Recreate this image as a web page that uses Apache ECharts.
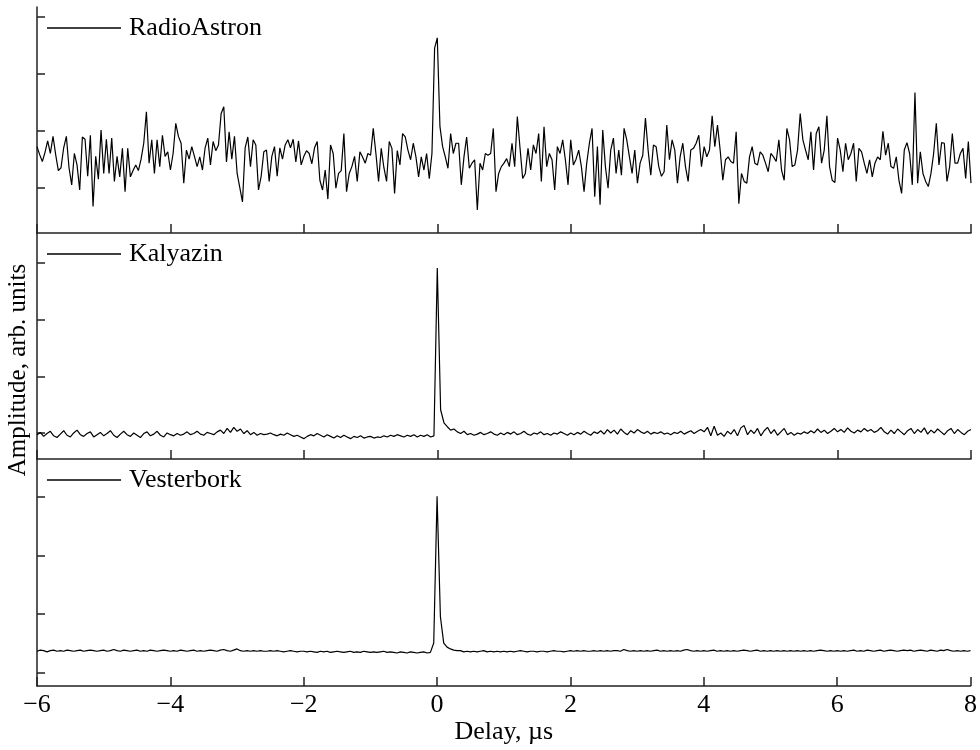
<!DOCTYPE html>
<html>
<head>
<meta charset="utf-8">
<script src="https://cdn.jsdelivr.net/npm/echarts@6/dist/echarts.min.js"></script>
<style>
  html, body { margin: 0; padding: 0; background: #fff; }
  #chart { width: 980px; height: 750px; }
</style>
</head>
<body>
<div id="chart"></div>
<script>
// sampling grid of the delay axis (µs)
const delayStart = -6
const raStep = 0.04
const kvStep = 0.05

const names = ['RadioAstron', 'Kalyazin', 'Vesterbork']
const yTicks = [1, 2, 3, 4]

// RadioAstron, every 0.04 µs from -6 to 8
const radioAstron = [
  1.72,1.58,1.46,1.62,1.82,1.60,1.90,1.58,1.30,1.35,1.70,1.90,1.35,1.05,1.60,1.40,0.96,1.89,1.85,1.20,1.92,0.67,1.55,1.15,2.01,
  1.25,1.85,1.25,1.87,1.11,1.55,1.19,1.69,0.93,1.69,1.19,1.30,1.40,1.30,1.50,1.78,2.33,1.43,1.84,1.25,1.84,1.37,1.92,1.55,1.63,
  1.31,1.60,2.13,1.90,1.78,1.08,1.66,1.50,1.72,1.55,1.37,1.54,1.31,1.70,1.87,1.40,1.81,1.65,1.75,2.30,2.42,1.45,1.98,1.50,1.90,
  1.25,1.00,0.75,1.70,1.89,1.37,1.84,1.75,0.96,1.20,1.63,1.66,1.11,1.55,1.72,1.20,1.70,1.50,1.75,1.84,1.70,1.85,1.45,1.82,1.40,
  1.55,1.65,1.60,1.42,1.70,1.81,1.13,0.96,1.31,0.80,1.75,1.60,0.99,1.25,1.30,1.95,0.93,1.25,1.37,1.55,1.11,1.63,1.54,1.43,1.60,
  1.57,2.04,1.60,1.11,1.69,1.35,1.11,1.81,1.69,0.90,1.65,1.40,1.95,1.89,1.66,1.49,1.78,1.54,1.19,1.54,1.31,1.60,1.16,1.60,3.45,
  3.63,2.07,1.72,1.54,1.34,1.95,1.60,1.78,1.78,1.05,1.54,1.89,1.34,1.43,1.49,0.61,1.43,1.31,1.60,1.57,1.60,2.04,0.93,1.25,1.37,
  1.43,1.51,1.37,1.78,1.37,2.25,1.70,1.16,1.25,1.69,1.31,1.75,1.60,1.95,1.11,2.07,1.37,1.60,1.49,0.96,1.72,1.60,1.84,1.49,1.05,
  1.84,1.40,1.50,1.66,1.37,0.93,1.43,1.78,2.04,0.84,1.72,0.70,2.01,1.37,0.99,1.66,1.87,1.25,1.66,1.22,2.04,1.84,1.54,1.25,1.66,
  1.08,1.43,1.57,2.22,1.66,1.22,1.75,1.72,1.37,1.20,1.28,2.10,1.49,1.84,1.66,1.08,1.54,1.78,1.37,1.11,1.66,1.69,1.78,1.92,1.37,
  1.72,1.54,1.66,2.26,1.72,2.10,1.66,1.13,1.49,1.54,1.46,1.43,1.98,0.72,1.25,1.11,1.08,1.54,1.72,1.43,1.40,1.63,1.57,1.43,1.28,
  1.60,1.54,1.46,1.84,1.31,1.13,2.04,1.84,1.37,1.40,1.66,2.30,1.84,1.66,1.49,1.98,1.31,1.95,2.07,1.43,1.66,2.26,1.37,1.13,1.09,
  1.87,1.66,1.28,1.78,1.49,1.60,1.78,1.11,1.69,1.63,1.43,1.25,1.49,1.19,1.43,1.54,1.49,1.99,1.57,1.78,1.37,1.34,1.54,1.13,0.90,
  1.66,1.79,1.60,1.05,2.67,1.08,1.63,1.25,1.11,1.02,1.25,1.60,2.13,1.40,1.79,1.78,1.11,1.37,1.95,1.43,1.43,1.60,1.69,1.16,1.81,
  1.08
]

// Kalyazin, every 0.05 µs
const kalyazin = [
  0.97,1.01,0.94,0.99,1.03,0.95,0.92,0.98,1.04,0.96,0.93,1.00,1.05,0.97,0.94,0.99,1.02,0.93,0.97,1.01,
  0.95,0.99,1.04,0.96,0.92,0.98,1.03,0.97,0.94,1.00,0.96,0.92,0.99,1.02,0.95,0.98,1.03,0.96,0.93,1.00,
  0.97,0.95,0.99,0.96,0.98,1.02,0.97,0.99,1.03,0.98,0.96,1.01,0.99,0.97,1.02,1.05,0.99,1.08,1.01,1.10,
  1.03,1.07,0.99,1.04,0.97,1.01,0.96,0.99,0.97,0.98,1.00,0.97,0.95,0.98,0.96,1.00,0.97,0.94,0.96,0.93,
  0.90,0.94,0.97,0.95,0.99,0.96,0.93,0.97,0.94,0.91,0.95,0.92,0.96,0.93,0.90,0.94,0.92,0.95,0.91,0.93,
  0.94,0.91,0.93,0.92,0.95,0.93,0.96,0.94,0.97,0.95,0.93,0.96,0.94,0.97,0.93,0.96,0.94,0.97,0.93,0.95,
  3.91,
  1.41,1.18,1.11,1.05,1.07,1.02,0.99,1.03,0.97,0.99,0.96,0.98,1.01,0.97,0.99,1.02,0.98,0.96,1.00,0.97,
  1.01,0.98,1.02,0.97,0.99,1.03,0.98,0.96,1.00,0.98,1.02,0.97,0.99,0.96,1.00,0.98,1.02,0.99,0.96,1.00,
  0.97,1.01,0.98,1.03,0.99,0.96,1.02,0.99,1.04,0.98,1.06,1.00,1.05,0.98,1.07,1.01,0.97,1.04,1.00,1.06,
  1.02,0.99,1.03,0.98,1.01,0.99,1.02,0.98,1.00,0.97,1.01,0.99,1.03,0.98,1.01,1.04,0.99,1.03,1.06,1.02,
  1.10,0.95,1.12,0.96,1.00,0.94,1.03,0.98,1.06,0.95,1.09,1.13,0.97,1.05,0.99,1.08,0.95,1.04,1.10,0.99,
  1.06,0.96,1.02,1.08,0.97,1.01,0.96,1.00,0.98,1.02,0.99,1.04,1.00,1.07,1.01,1.05,0.99,1.03,1.08,1.02,
  1.06,1.01,1.09,1.03,1.00,1.05,1.02,1.08,1.03,1.06,1.01,1.04,1.10,1.02,0.98,1.05,0.99,1.07,1.02,0.97,
  1.04,1.08,0.99,1.06,1.01,1.09,0.98,1.05,1.00,1.07,1.02,0.97,1.04,1.08,0.99,1.06,1.01,0.97,1.03,1.06
]

// Vesterbork, every 0.05 µs
const vesterbork = [
  1.36,1.38,1.37,1.35,1.37,1.38,1.36,1.37,1.36,1.38,1.37,1.36,1.37,1.38,1.36,1.37,1.38,1.37,1.36,1.37,
  1.38,1.36,1.37,1.39,1.37,1.36,1.38,1.37,1.36,1.37,1.38,1.36,1.37,1.36,1.38,1.37,1.36,1.37,1.38,1.37,
  1.36,1.37,1.36,1.38,1.37,1.36,1.37,1.38,1.36,1.37,1.36,1.37,1.38,1.37,1.36,1.38,1.39,1.37,1.36,1.38,
  1.40,1.37,1.36,1.37,1.36,1.37,1.36,1.37,1.36,1.36,1.37,1.36,1.37,1.36,1.35,1.36,1.37,1.36,1.35,1.36,
  1.36,1.35,1.36,1.35,1.34,1.36,1.35,1.36,1.34,1.35,1.36,1.35,1.34,1.35,1.36,1.34,1.35,1.34,1.36,1.35,
  1.34,1.35,1.34,1.35,1.36,1.34,1.35,1.34,1.33,1.35,1.34,1.33,1.35,1.34,1.33,1.34,1.35,1.33,1.34,1.50,
  4.01,
  1.95,1.50,1.43,1.40,1.38,1.37,1.37,1.35,1.36,1.35,1.36,1.35,1.36,1.37,1.35,1.36,1.35,1.36,1.35,1.36,
  1.35,1.36,1.35,1.36,1.37,1.36,1.35,1.36,1.36,1.35,1.36,1.36,1.35,1.36,1.37,1.36,1.36,1.35,1.36,1.37,
  1.36,1.37,1.36,1.37,1.36,1.36,1.37,1.36,1.37,1.36,1.37,1.36,1.37,1.37,1.36,1.39,1.37,1.36,1.37,1.36,
  1.37,1.36,1.37,1.36,1.37,1.38,1.36,1.37,1.36,1.37,1.36,1.37,1.36,1.38,1.39,1.37,1.36,1.37,1.36,1.37,
  1.36,1.37,1.38,1.36,1.37,1.36,1.37,1.36,1.37,1.36,1.37,1.38,1.37,1.36,1.37,1.38,1.36,1.37,1.36,1.37,
  1.36,1.37,1.36,1.37,1.36,1.37,1.36,1.37,1.36,1.37,1.36,1.37,1.36,1.37,1.38,1.37,1.36,1.37,1.36,1.37,
  1.36,1.37,1.36,1.37,1.38,1.36,1.37,1.36,1.38,1.37,1.36,1.37,1.38,1.36,1.37,1.38,1.37,1.36,1.37,1.38,
  1.37,1.38,1.36,1.37,1.38,1.37,1.36,1.38,1.37,1.36,1.38,1.37,1.39,1.37,1.36,1.37,1.36,1.37,1.36,1.37
]

const toPairs = (vals, step) => vals.map((v, i) => [+(delayStart + i * step).toFixed(2), v])

const serif = "'Liberation Serif', 'DejaVu Serif', serif"
const axisColor = '#222'

// panel layout: top / height in px, and y range per panel
const panels = [
  { top: 7, height: 226, min: 0.205, max: 4.17 },
  { top: 233, height: 226, min: 0.541, max: 4.527 },
  { top: 459, height: 227, min: 0.766, max: 4.646 }
]

const minus = v => (v < 0 ? '\u2212' + Math.abs(v) : String(v))

const myChart = echarts.init(document.getElementById('chart'))

const option = {
  animation: false,
  backgroundColor: '#fff',
  grid: panels.map(p => ({ left: 37, right: 9, top: p.top, height: p.height })),
  xAxis: panels.map((p, i) => ({
    type: 'value',
    gridIndex: i,
    min: -6,
    max: 8,
    interval: 2,
    axisLine: { show: true, onZero: false, lineStyle: { color: axisColor, width: 1.5 } },
    axisTick: { show: true, inside: true, length: 9, lineStyle: { color: axisColor, width: 1.5 } },
    axisLabel: {
      show: i === 2,
      margin: 6,
      fontFamily: serif,
      fontSize: 26,
      color: '#000',
      formatter: minus
    },
    splitLine: { show: false },
    name: i === 2 ? 'Delay, µs' : '',
    nameLocation: 'middle',
    nameGap: 31,
    nameTextStyle: { fontFamily: serif, fontSize: 26, color: '#000' }
  })),
  yAxis: panels.map((p, i) => ({
    type: 'value',
    gridIndex: i,
    min: p.min,
    max: p.max,
    axisLine: { show: true, onZero: false, lineStyle: { color: axisColor, width: 1.5 } },
    axisTick: { show: true, inside: true, length: 8, customValues: yTicks, lineStyle: { color: axisColor, width: 1.5 } },
    axisLabel: { show: false },
    splitLine: { show: false }
  })),
  legend: panels.map((p, i) => ({
    data: [names[i]],
    left: 47,
    top: p.top + 8,
    padding: 0,
    icon: 'rect',
    itemWidth: 74,
    itemHeight: 1.3,
    selectedMode: false,
    itemStyle: { color: '#000' },
    textStyle: { fontFamily: serif, fontSize: 26, color: '#000', padding: [0, 0, 0, 3] }
  })),
  graphic: [{
    type: 'text',
    x: 18,
    y: 370,
    rotation: Math.PI / 2,
    style: {
      text: 'Amplitude, arb. units',
      fontFamily: serif,
      fontSize: 25,
      fill: '#000',
      align: 'center',
      verticalAlign: 'middle'
    }
  }],
  series: [
    { name: names[0], data: toPairs(radioAstron, raStep) },
    { name: names[1], data: toPairs(kalyazin, kvStep) },
    { name: names[2], data: toPairs(vesterbork, kvStep) }
  ].map((s, i) => ({
    name: s.name,
    type: 'line',
    xAxisIndex: i,
    yAxisIndex: i,
    showSymbol: false,
    symbol: 'none',
    silent: true,
    lineStyle: { color: '#000', width: 1.2 },
    itemStyle: { color: '#000' },
    data: s.data
  }))
}

myChart.setOption(option)
</script>
</body>
</html>
